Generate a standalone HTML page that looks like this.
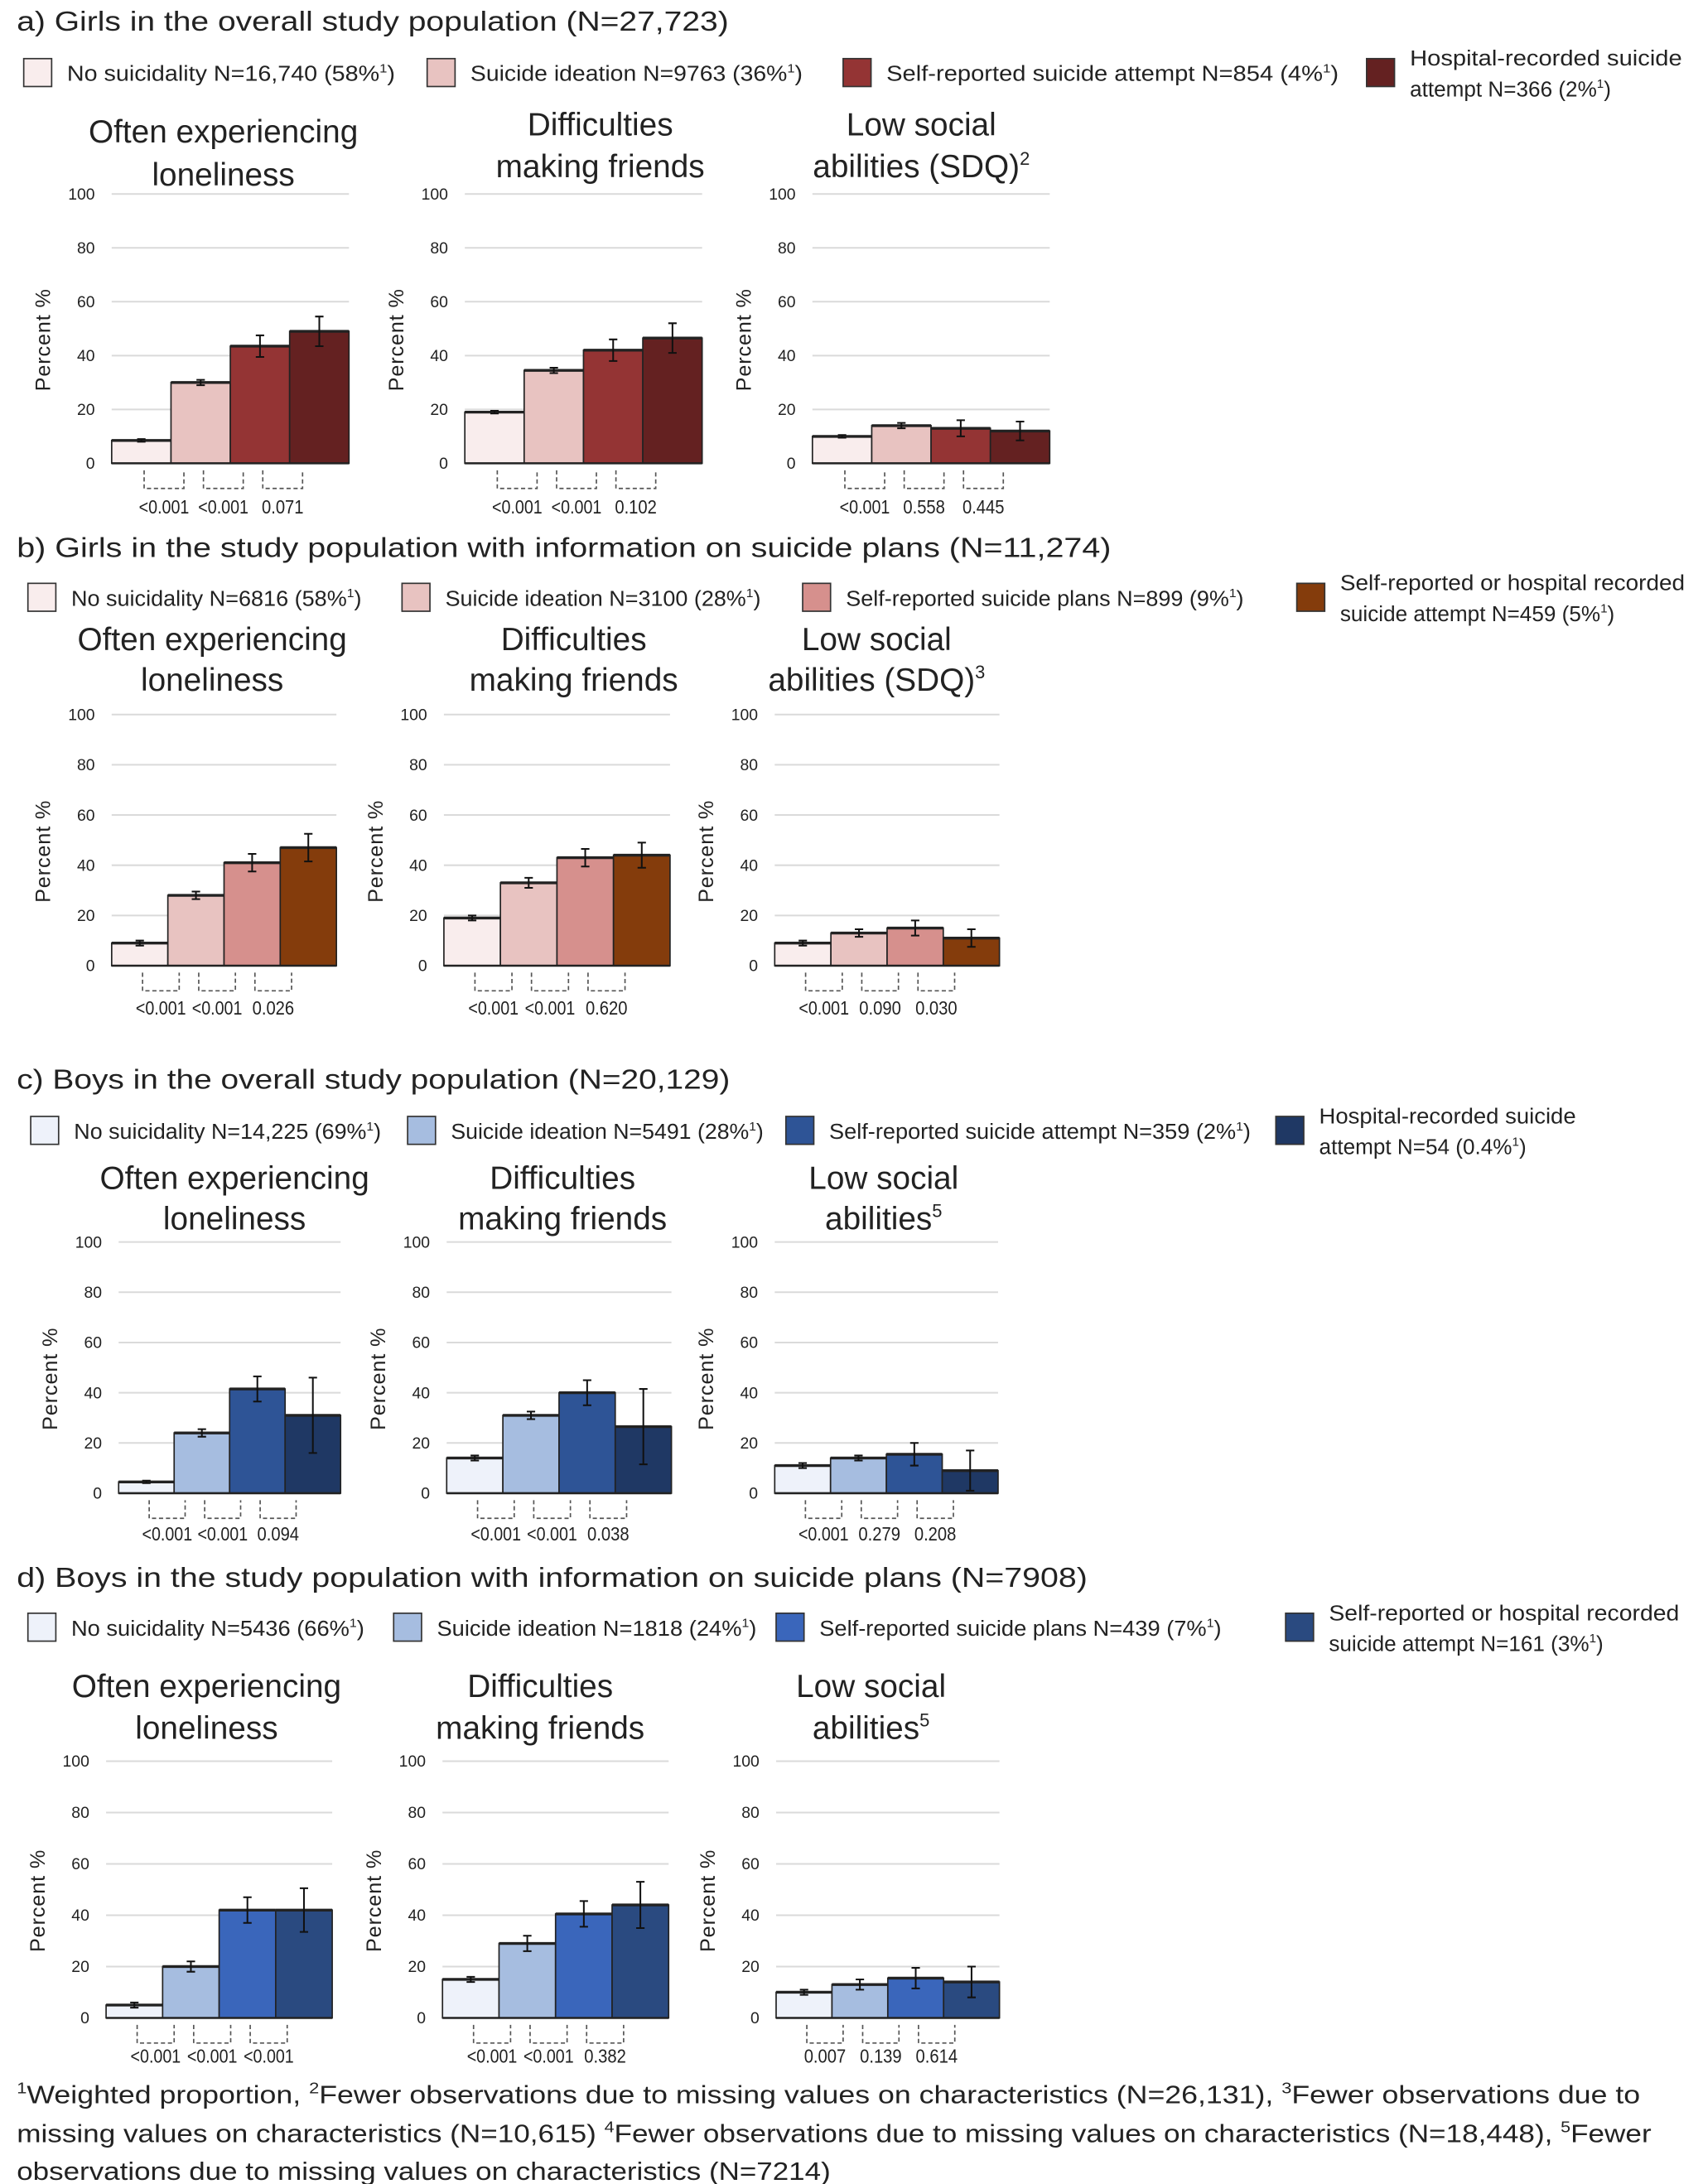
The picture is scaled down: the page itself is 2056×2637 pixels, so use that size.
<!DOCTYPE html>
<html><head><meta charset="utf-8"><style>
html,body{margin:0;padding:0;background:#fff}
svg{display:block}
text{font-family:"Liberation Sans",sans-serif;fill:#222}
</style></head><body>
<svg id="fig" width="2056" height="2637" viewBox="0 0 1220 1565" preserveAspectRatio="none" xmlns="http://www.w3.org/2000/svg"></svg>
<script>
// ---- data ----
const panelTitles = ["a) Girls in the overall study population (N=27,723)","b) Girls in the study population with information on suicide plans (N=11,274)","c) Boys in the overall study population (N=20,129)","d) Boys in the study population with information on suicide plans (N=7908)"];
const yTicks = [0,20,40,60,80,100];
const a_vals = [[8.5,30,43.5,49],[19,34.5,42,46.5],[10,14,13,12]];
const a_err  = [[0.5,1,4,5.5],[0.5,1,4,5.5],[0.5,1,3,3.5]];
const a_p = [["<0.001","<0.001","0.071"],["<0.001","<0.001","0.102"],["<0.001","0.558","0.445"]];
const b_vals = [[9,28,41,47],[19,33,43,44],[9,13,15,11]];
const b_err  = [[1,1.5,3.5,5.5],[1,2,3.5,5],[1,1.5,3,3.5]];
const b_p = [["<0.001","<0.001","0.026"],["<0.001","<0.001","0.620"],["<0.001","0.090","0.030"]];
const c_vals = [[4.5,24,41.5,31],[14,31,40,26.5],[11,14,15.5,9]];
const c_err  = [[0.5,1.5,5,15],[1,1.5,5,15],[1,1,4.5,8]];
const c_p = [["<0.001","<0.001","0.094"],["<0.001","<0.001","0.038"],["<0.001","0.279","0.208"]];
const d_vals = [[5,20,42,42],[15,29,40.5,44],[10,13,15.5,14]];
const d_err  = [[1,2,5,8.5],[1,3,5,9],[1,2,4,6]];
const d_p = [["<0.001","<0.001","<0.001"],["<0.001","<0.001","0.382"],["0.007","0.139","0.614"]];
const a_legend = [["No suicidality N=16,740 (58%","1",")"],["Suicide ideation N=9763 (36%","1",")"],["Self-reported suicide attempt N=854 (4%","1",")"],["Hospital-recorded suicide|attempt N=366 (2%","1",")"]];
const b_legend = [["No suicidality N=6816 (58%","1",")"],["Suicide ideation N=3100 (28%","1",")"],["Self-reported suicide plans N=899 (9%","1",")"],["Self-reported or hospital recorded|suicide attempt N=459 (5%","1",")"]];
const c_legend = [["No suicidality N=14,225 (69%","1",")"],["Suicide ideation N=5491 (28%","1",")"],["Self-reported suicide attempt N=359 (2%","1",")"],["Hospital-recorded suicide|attempt N=54 (0.4%","1",")"]];
const d_legend = [["No suicidality N=5436 (66%","1",")"],["Suicide ideation N=1818 (24%","1",")"],["Self-reported suicide plans N=439 (7%","1",")"],["Self-reported or hospital recorded|suicide attempt N=161 (3%","1",")"]];

// ---- layout ----
const svg=document.getElementById('fig');
const NS='http://www.w3.org/2000/svg';
function el(tag,attrs,parent,txt){const e=document.createElementNS(NS,tag);for(const k in attrs)e.setAttribute(k,attrs[k]);if(txt!==undefined)e.textContent=txt;(parent||svg).appendChild(e);return e;}

const panels=[
 {vals:a_vals,err:a_err,p:a_p,leg:a_legend,colors:["#f9eded","#e8c3c1","#943434","#642121"],titleY:22,legY:52,legX:[17,306,604,979],legW:[239,242,328,195],
  subs:[["Often experiencing","loneliness"],["Difficulties","making friends"],["Low social","abilities (SDQ)","2"]],subY:[[102,133],[97,127],[97,127]],subX:[160,430,660],
  top:139,bot:332,xs:[[80,250],[333,503],[582,752]],pY:368,titleW:510},
 {vals:b_vals,err:b_err,p:b_p,leg:b_legend,colors:["#f9eded","#e8c3c1","#d6908d","#843c0c"],titleY:399,legY:428,legX:[20,288,575,929],legW:[212,230,289,247],
  subs:[["Often experiencing","loneliness"],["Difficulties","making friends"],["Low social","abilities (SDQ)","3"]],subY:[[466,495],[466,495],[466,495]],subX:[152,411,628],
  top:512,bot:692,xs:[[80,241],[318,480],[555,716]],pY:727,titleW:784},
 {vals:c_vals,err:c_err,p:c_p,leg:c_legend,colors:["#eef2fa","#a6bde0","#2e5496","#1f3864"],titleY:780,legY:810,legX:[22,292,563,914],legW:[224,228,306,184],
  subs:[["Often experiencing","loneliness"],["Difficulties","making friends"],["Low social","abilities","5"]],subY:[[852,881],[852,881],[852,881]],subX:[168,403,633],
  top:890,bot:1070,xs:[[85,244],[320,481],[555,715]],pY:1104,titleW:511},
 {vals:d_vals,err:d_err,p:d_p,leg:d_legend,colors:["#eef2fa","#a6bde0","#3a66bb","#2a4a80"],titleY:1137,legY:1166,legX:[20,282,556,921],legW:[214,233,292,251],
  subs:[["Often experiencing","loneliness"],["Difficulties","making friends"],["Low social","abilities","5"]],subY:[[1216,1246],[1216,1246],[1216,1246]],subX:[148,387,624],
  top:1262,bot:1446,xs:[[76,238],[317,479],[556,716]],pY:1478,titleW:767}
];

panels.forEach((P,pi)=>{
  const g=el('g',{});
  
  
  const t=el('text',{x:12,y:P.titleY,'font-size':20,textLength:P.titleW,lengthAdjust:'spacingAndGlyphs'},g,panelTitles[pi]);
  
  
  P.leg.forEach((L,li)=>{
    const lg=el('g',{},g);
    
    
    el('rect',{x:P.legX[li],y:P.legY-10,width:20,height:20,fill:P.colors[li],stroke:'#333','stroke-width':1},lg);
    const lines=L[0].split('|');
    const tx=P.legX[li]+31;
    if(lines.length===1){
      const tt=el('text',{x:tx,y:P.legY+6,'font-size':15.5,textLength:P.legW[li]-4,lengthAdjust:'spacingAndGlyphs'},lg);
      tt.appendChild(document.createTextNode(lines[0]));
      el('tspan',{'font-size':9,dy:-6},tt,L[1]);
      el('tspan',{dy:6},tt,L[2]);
    }else{
      el('text',{x:tx,y:P.legY-5,'font-size':15.5,textLength:P.legW[li],lengthAdjust:'spacingAndGlyphs'},lg,lines[0]);
      const tt=el('text',{x:tx,y:P.legY+17,'font-size':15.5},lg);
      tt.appendChild(document.createTextNode(lines[1]));
      el('tspan',{'font-size':9,dy:-6},tt,L[1]);
      el('tspan',{dy:6},tt,L[2]);
    }
  });
  for(let c=0;c<3;c++){
    const cg=el('g',{},g);
    
    
    const x0=P.xs[c][0],x1=P.xs[c][1];
    const yS=v=>P.bot-(v/100)*(P.bot-P.top);
    const s=P.subs[c];
    el('text',{x:P.subX[c],y:P.subY[c][0],'font-size':23,'text-anchor':'middle'},cg,s[0]);
    const s2=el('text',{x:P.subX[c],y:P.subY[c][1],'font-size':23,'text-anchor':'middle'},cg,s[1]);
    if(s[2]) el('tspan',{'font-size':13,dy:-9},s2,s[2]);
    yTicks.forEach(v=>{
      if(v>0) el('line',{x1:x0,x2:x1,y1:yS(v),y2:yS(v),stroke:'#dadada','stroke-width':1.2},cg);
      el('text',{x:x0-12,y:yS(v)+4,'font-size':11.5,'text-anchor':'end',fill:'#333'},cg,String(v));
    });
    const yl=el('text',{x:0,y:0,'font-size':15,'letter-spacing':'0.5','text-anchor':'middle',transform:`translate(${x0-44},${(P.top+P.bot)/2+8}) rotate(-90)`,fill:'#333'},cg,'Percent %');
    
    
    const bw=(x1-x0)/4;
    const vals=P.vals[c],errs=P.err[c];
    vals.forEach((v,i)=>{
      const bx=x0+i*bw;
      const r=el('rect',{x:bx,y:yS(v),width:bw,height:P.bot-yS(v),fill:P.colors[i],stroke:'#222','stroke-width':1},cg);
      
      
      el('line',{x1:bx,x2:bx+bw,y1:yS(v),y2:yS(v),stroke:'#222','stroke-width':2},cg);
      const cx=bx+bw/2,e=errs[i];
      el('path',{d:`M${cx},${yS(v+e)}V${yS(v-e)}M${cx-3},${yS(v+e)}H${cx+3}M${cx-3},${yS(v-e)}H${cx+3}`,stroke:'#111','stroke-width':1.2,fill:'none'},cg);
    });
    el('line',{x1:x0,x2:x1,y1:P.bot,y2:P.bot,stroke:'#222','stroke-width':1.5},cg);
    P.p[c].forEach((pv,i)=>{
      const ca=x0+(i+0.5)*bw+2,cb=x0+(i+1.5)*bw-12;
      el('path',{d:`M${ca},${P.bot+5}V${P.bot+18}H${cb}V${P.bot+5}`,stroke:'#555','stroke-width':1,'stroke-dasharray':'3,2',fill:'none'},cg);
      const pt=el('text',{x:(ca+cb)/2,y:P.pY,'font-size':13.5,'text-anchor':'middle',textLength:pv.length*6,lengthAdjust:'spacingAndGlyphs'},cg,pv);
      
      
    });
  }
});
const fn=el('g',{});


const fl=[
 [["1","Weighted proportion, "],["2","Fewer observations due to missing values on characteristics (N=26,131), "],["3","Fewer observations due to"]],
 [["","missing values on characteristics (N=10,615) "],["4","Fewer observations due to missing values on characteristics (N=18,448), "],["5","Fewer"]],
 [["","observations due to missing values on characteristics (N=7214)"]]
];
const fw=[1163,1171,583],fy=[1507,1535,1562];
fl.forEach((line,i)=>{
  const t=el('text',{x:12,y:fy[i],'font-size':18,textLength:fw[i],lengthAdjust:'spacingAndGlyphs'},fn);
  line.forEach(([sup,txt])=>{
    if(sup){el('tspan',{'font-size':11,dy:-7},t,sup);el('tspan',{dy:7},t,txt);}
    else t.appendChild(document.createTextNode(txt));
  });
});
</script>
</body></html>
